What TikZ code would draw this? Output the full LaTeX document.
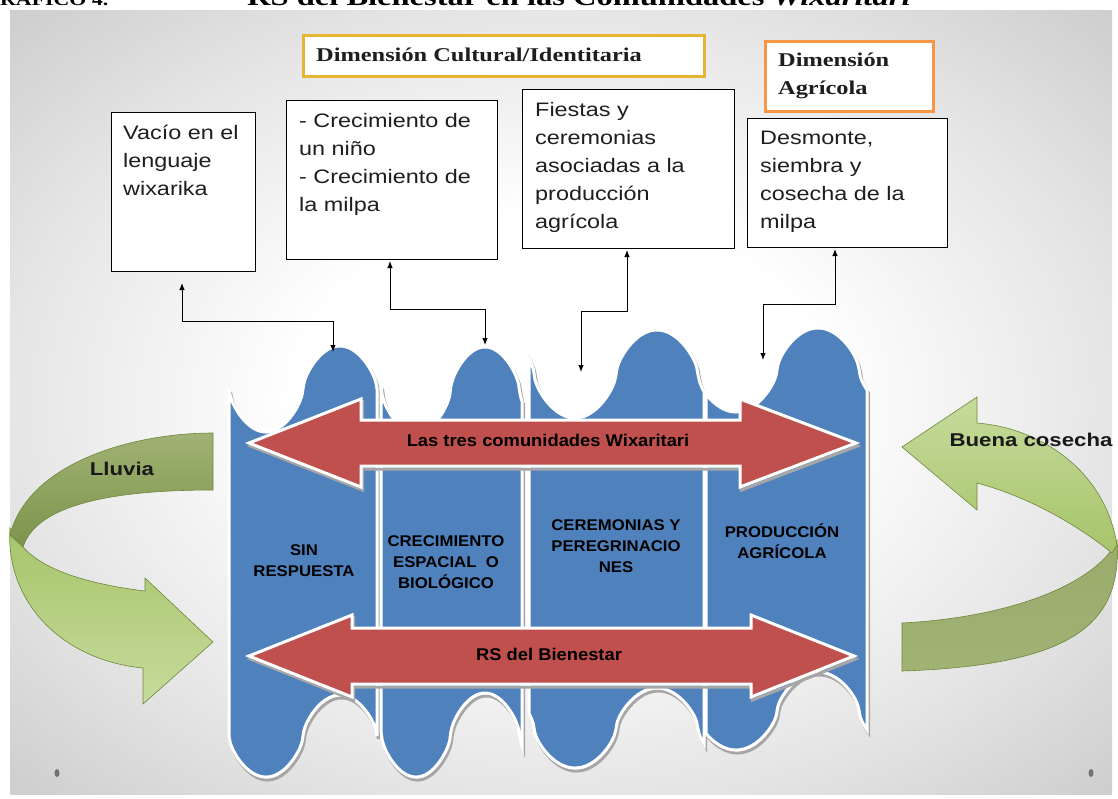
\documentclass[tikz,border=0pt]{standalone}
\usepackage{fontspec}
\setmainfont{Liberation Sans}
\newfontfamily\boxfont{Liberation Sans}[FakeStretch=1.2]
\newfontfamily\hdrfont{Liberation Serif}[FakeStretch=1.25]
\newfontfamily\grnfont{Liberation Sans}[FakeStretch=1.2]
\newfontfamily\colfont{Liberation Sans}[FakeStretch=1.08]
\newfontfamily\ttlfont{Liberation Serif}[FakeStretch=1.25]
\usetikzlibrary{arrows.meta}
\definecolor{colblue}{HTML}{4F81BD}
\definecolor{arrred}{HTML}{C0504D}
\definecolor{hdrgold}{HTML}{E6B531}
\definecolor{hdrorange}{HTML}{F79646}
\definecolor{txtdark}{HTML}{1E1E1E}
\definecolor{gdkA}{HTML}{A0B274}
\definecolor{gdkB}{HTML}{7B944B}
\definecolor{gltA}{HTML}{A7C46A}
\definecolor{gltB}{HTML}{C6DB9C}
\definecolor{gline}{HTML}{6E883C}
\pgfdeclareradialshading{bgrad}{\pgfpointorigin}{color(0bp)=(white); color(12bp)=(white); color(25bp)=(black!10); color(36bp)=(black!20); color(50bp)=(black!20)}
\begin{document}
\begin{tikzpicture}[x=1pt,y=-1pt,
  tbox/.style={draw=black, line width=1.2pt, fill=white, inner sep=0pt, anchor=north west},
  btext/.style={inner sep=0pt, anchor=north west, align=left, text=txtdark, font=\boxfont\fontsize{19.5}{28}\selectfont},
  hdrtext/.style={inner sep=0pt, anchor=north west, align=left, text=txtdark, font=\hdrfont\bfseries\fontsize{19.5}{28}\selectfont},
  collbl/.style={inner sep=0pt, align=center, text=black, font=\colfont\bfseries\fontsize{15.5}{21}\selectfont},
  redlbl/.style={inner sep=0pt, text=black, font=\colfont\bfseries\fontsize{17}{20}\selectfont},
  grnlbl/.style={inner sep=0pt, text=black!90, font=\grnfont\bfseries\fontsize{18.5}{22}\selectfont},
  ttl/.style={inner sep=0pt, anchor=base west, text=black, font=\ttlfont\bfseries\fontsize{26}{30}\selectfont},
  conn/.style={line width=0.9pt, {Latex[length=7pt,width=5.5pt]}-{Latex[length=7pt,width=5.5pt]}},
  colfill/.style={fill=colblue, draw=white, line width=3pt},
  colshadow/.style={draw=black!35, line width=3pt},
  redarr/.style={fill=arrred, draw=white, line width=3pt, line join=miter},
  grnedge/.style={draw=gline, line width=0.6pt}
]
\useasboundingbox (0,0) rectangle (1118,798);
% panel background
\shade[shading=bgrad] (10,10) rectangle (1112,794);
\fill[black!55] (57,773) ellipse (2.5 and 4);
\fill[black!55] (1091,773) ellipse (2.5 and 4);

% title (mostly cut by the top edge, as in the reference)
\node[ttl, font=\ttlfont\bfseries\fontsize{17.5}{20}\selectfont] (ttlA) at (0,5) {RÁFICO 4.};
\node[ttl] (ttlB) at (247,5) {RS del Bienestar en las Comunidades \textit{Wixaritari}};

% blue wave columns
\foreach \L/\R/\xo/\P/\mt/\at/\mb/\ab in {229/377/229/148/389/43/736/41, 381/522/381.5/138/390/43/735/42, 529/704/534/164/374/44/728/40, 706/867/695/164/370/42/711/39}{
  \draw[colshadow, shift={(1.5,3)}] plot[domain=\L:\R, samples=120] (\x,{\mt+\at*sign(sin((\x-\xo)/\P*360))*pow(abs(sin((\x-\xo)/\P*360)),0.62)}) -- plot[domain=\R:\L, samples=120] (\x,{\mb+\ab*sign(sin((\x-\xo)/\P*360))*pow(abs(sin((\x-\xo)/\P*360)),0.62)}) -- cycle;
  \draw[colfill] plot[domain=\L:\R, samples=120] (\x,{\mt+\at*sign(sin((\x-\xo)/\P*360))*pow(abs(sin((\x-\xo)/\P*360)),0.62)}) -- plot[domain=\R:\L, samples=120] (\x,{\mb+\ab*sign(sin((\x-\xo)/\P*360))*pow(abs(sin((\x-\xo)/\P*360)),0.62)}) -- cycle;
}

% red double arrows
\foreach \cy/\hl/\hr/\tl/\tr/\hh/\sh in {443/361/740/249/856/44/23, 656/352/751/249/854/41/28}{
  \draw[black!35, line width=3pt, shift={(1.5,3)}] (\tl,\cy) -- (\hl,\cy-\hh) -- (\hl,\cy-\sh) -- (\hr,\cy-\sh) -- (\hr,\cy-\hh) -- (\tr,\cy) -- (\hr,\cy+\hh) -- (\hr,\cy+\sh) -- (\hl,\cy+\sh) -- (\hl,\cy+\hh) -- cycle;
  \draw[redarr] (\tl,\cy) -- (\hl,\cy-\hh) -- (\hl,\cy-\sh) -- (\hr,\cy-\sh) -- (\hr,\cy-\hh) -- (\tr,\cy) -- (\hr,\cy+\hh) -- (\hr,\cy+\sh) -- (\hl,\cy+\sh) -- (\hl,\cy+\hh) -- cycle;
}
\node[redlbl] (lblA) at (548,440) {Las tres comunidades Wixaritari};
\node[redlbl] (lblB) at (549,654) {RS del Bienestar};

% column labels
\node[collbl] (col1) at (304,561) {SIN\\RESPUESTA};
\node[collbl] (col2) at (446,562) {CRECIMIENTO\\ESPACIAL\ \ O\\BIOLÓGICO};
\node[collbl] (col3) at (616,546) {CEREMONIAS Y\\PEREGRINACIO\\NES};
\node[collbl] (col4) at (782,541) {PRODUCCIÓN\\AGRÍCOLA};

% green curved arrow left (Lluvia)
\shade[grnedge, top color=gltA, bottom color=gltB] (10,528) .. controls (5,600) and (60,660) .. (143,668) -- (143,704) -- (213,642) -- (145,578) -- (145,591) .. controls (95,585) and (45,572) .. (23,547) -- cycle;
\shade[grnedge, top color=gdkA, bottom color=gdkB] (213,433) .. controls (130,433) and (28,464) .. (10,535) -- (23,547) .. controls (35,510) and (95,490) .. (213,490) -- cycle;
\node[grnlbl] (lluvia) at (122,469) {Lluvia};

% green curved arrow right (Buena cosecha)
\shade[grnedge, top color=gdkA!80!gdkB, bottom color=gdkA] (1117,540) .. controls (1122,620) and (1080,665) .. (902,671) -- (902,623) .. controls (1000,618) and (1080,590) .. (1110,552) -- cycle;
\shade[grnedge, top color=gltB, bottom color=gltA] (902,447) -- (977,397) -- (977,423) .. controls (1040,428) and (1105,470) .. (1117,545) -- (1112,553) .. controls (1090,535) and (1040,500) .. (977,483) -- (977,510) -- cycle;
\node[grnlbl] (cosecha) at (1031,440) {Buena cosecha};

% header boxes
\node[tbox, draw=hdrgold, line width=2.5pt, minimum width=401pt, minimum height=41pt] (h1) at (302,34) {};
\node[hdrtext, anchor=base west] (h1t) at (316,61) {Dimensión Cultural/Identitaria};
\node[tbox, draw=hdrorange, line width=2.5pt, minimum width=168pt, minimum height=70pt] (h2) at (764,40) {};
\node[hdrtext] (h2t) at (778,46) {\rule{0pt}{20pt}Dimensión\\Agrícola};

% content boxes
\node[tbox, minimum width=144pt, minimum height=159pt] (b1) at (111,112) {};
\node[btext] (t1) at (123,119) {\rule{0pt}{20pt}Vacío en el\\lenguaje\\wixarika};
\node[tbox, minimum width=211pt, minimum height=159pt] (b2) at (286,100) {};
\node[btext] (t2) at (299,107) {\rule{0pt}{20pt}- Crecimiento de\\un niño\\- Crecimiento de\\la milpa};
\node[tbox, minimum width=212pt, minimum height=159pt] (b3) at (522,89) {};
\node[btext] (t3) at (535,96) {\rule{0pt}{20pt}Fiestas y\\ceremonias\\asociadas a la\\producción\\agrícola};
\node[tbox, minimum width=200pt, minimum height=129pt] (b4) at (747,118) {};
\node[btext] (t4) at (760,124) {\rule{0pt}{20pt}Desmonte,\\siembra y\\cosecha de la\\milpa};

% connectors
\coordinate (c1t) at (182,283); \coordinate (c1b) at (333,352);
\coordinate (c2t) at (390,261); \coordinate (c2b) at (485,345);
\coordinate (c3t) at (627,250); \coordinate (c3b) at (581,372);
\coordinate (c4t) at (835,249); \coordinate (c4b) at (763,360);
\draw[conn] (c1t) -- ++(0,38) -| (c1b);
\draw[conn] (c2t) -- ++(0,48) -| (c2b);
\draw[conn] (c3t) -- ++(0,61) -| (c3b);
\draw[conn] (c4t) -- ++(0,55) -| (c4b);
\end{tikzpicture}
\end{document}
